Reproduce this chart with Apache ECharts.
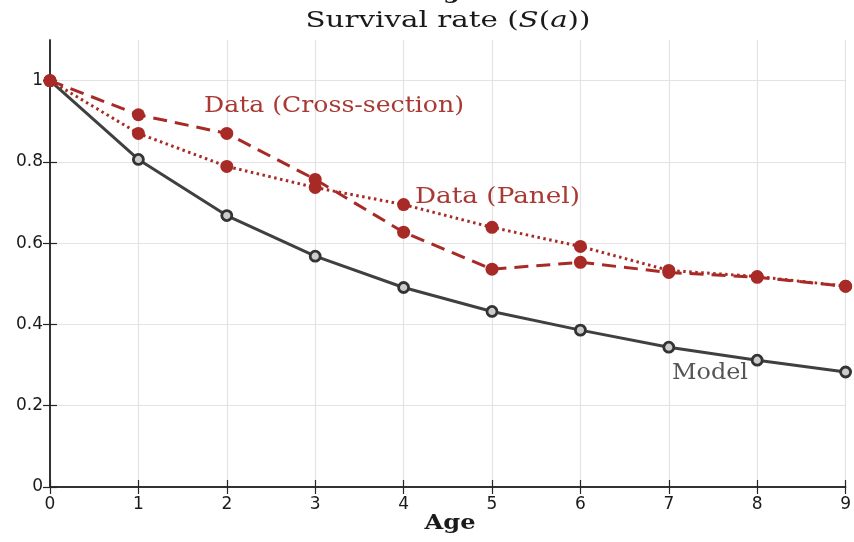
<!DOCTYPE html>
<html>
<head>
<meta charset="utf-8">
<script src="https://cdn.jsdelivr.net/npm/echarts@6/dist/echarts.min.js"></script>
<style>html,body{margin:0;padding:0;background:#fff;}#c{width:854px;height:542px;}</style>
</head>
<body>
<div id="c"></div>
<script>
const ages = [0, 1, 2, 3, 4, 5, 6, 7, 8, 9];
const model = [1, 0.806, 0.668, 0.568, 0.491, 0.432, 0.386, 0.344, 0.312, 0.283];
const crossSection = [1, 0.916, 0.870, 0.757, 0.627, 0.536, 0.553, 0.528, 0.516, 0.494];
const panel = [1, 0.870, 0.789, 0.737, 0.695, 0.639, 0.592, 0.533, 0.518, 0.494];
const yTicks = [0, 0.2, 0.4, 0.6, 0.8, 1];

const red = '#a82a26';
const labelRed = '#a83a33';
const gray = '#404040';
const pair = arr => ages.map((a, i) => [a, arr[i]]);

// measure text to stretch serif labels horizontally like the reference
const ctx = document.createElement('canvas').getContext('2d');
function stretch(text, font, target) {
  ctx.font = font;
  return target / ctx.measureText(text).width;
}
const serif = '"DejaVu Serif"';
const fTitle = '23px ' + serif;
const fAnn = '23px ' + serif;
const fAge = 'bold 21px ' + serif;

function label(text, font, x, y, width, fill, align) {
  const s = stretch(text, font, width);
  return {type: 'text', x: x, y: y, scaleX: s, z: 10,
    style: {text: text, font: font, fill: fill, align: align || 'left', verticalAlign: 'middle'}};
}

const chart = echarts.init(document.getElementById('c'), null, {renderer: 'canvas'});
const axisCommon = {
  axisLine: {show: true, lineStyle: {color: '#262626', width: 1.5}},
  axisTick: {show: true, inside: true, length: 7, lineStyle: {color: '#262626', width: 1.2}},
};
const titleScale = stretch('Survival rate (S(a))', fTitle, 285);
chart.setOption({
  animation: false,
  backgroundColor: '#fff',
  grid: {left: 50, right: 6, top: 40, bottom: 55, containLabel: false},
  graphic: [
    {type: 'text', x: 448, y: 21, scaleX: titleScale, z: 10,
      style: {text: 'Survival rate ({i|S}({i|a}))', font: fTitle, fill: '#1a1a1a', align: 'center', verticalAlign: 'middle',
        rich: {i: {fontFamily: 'DejaVu Serif', fontStyle: 'italic', fontSize: 23, fill: '#1a1a1a'}}}},
    label('Age', fAge, 450, -6, 50, '#1a1a1a', 'center'),
    label('Age', fAge, 450, 524, 51, '#1a1a1a', 'center'),
    label('Data (Cross-section)', fAnn, 204, 106, 260, labelRed),
    label('Data (Panel)', fAnn, 415, 197, 165, labelRed),
    label('Model', fAnn, 672, 373, 76, '#555555')
  ],
  xAxis: [
    Object.assign({
      type: 'value', min: 0, max: 9, interval: 1, position: 'bottom',
      axisLabel: {fontFamily: 'DejaVu Sans', fontSize: 17, color: '#1a1a1a', margin: 9},
      splitLine: {show: true, lineStyle: {color: '#e3e3e3', width: 1.2}}
    }, axisCommon),
    Object.assign({
      type: 'value', min: 0, max: 9, interval: 1, position: 'top',
      axisLabel: {show: false}, splitLine: {show: false}
    }, axisCommon)
  ],
  yAxis: [
    Object.assign({}, axisCommon, {
      type: 'value', min: 0, max: 1.1, interval: 0.2, position: 'left',
      axisTick: Object.assign({}, axisCommon.axisTick, {customValues: yTicks}),
      axisLabel: {fontFamily: 'DejaVu Sans', fontSize: 17, color: '#1a1a1a', margin: 7, customValues: yTicks,
        formatter: v => String(+v.toFixed(1))},
      splitLine: {show: true, lineStyle: {color: '#e3e3e3', width: 1.2}}
    }),
    Object.assign({}, axisCommon, {
      type: 'value', min: 0, max: 1.1, interval: 0.2, position: 'right',
      axisTick: Object.assign({}, axisCommon.axisTick, {customValues: yTicks}),
      axisLabel: {show: false}, splitLine: {show: false}
    })
  ],
  series: [
    {
      name: 'Model', type: 'line', data: pair(model), z: 3,
      symbol: 'circle', symbolSize: 10,
      lineStyle: {color: gray, width: 3},
      itemStyle: {color: '#cccccc', borderColor: '#333333', borderWidth: 2.8}
    },
    {
      name: 'Data (Panel)', type: 'line', data: pair(panel), z: 4,
      symbol: 'circle', symbolSize: 13,
      lineStyle: {color: red, width: 3, type: [2.5, 3.5]},
      itemStyle: {color: red}
    },
    {
      name: 'Data (Cross-section)', type: 'line', data: pair(crossSection), z: 5,
      symbol: 'circle', symbolSize: 13,
      lineStyle: {color: red, width: 3, type: [14, 8]},
      itemStyle: {color: red}
    }
  ]
});
</script>
</body>
</html>
